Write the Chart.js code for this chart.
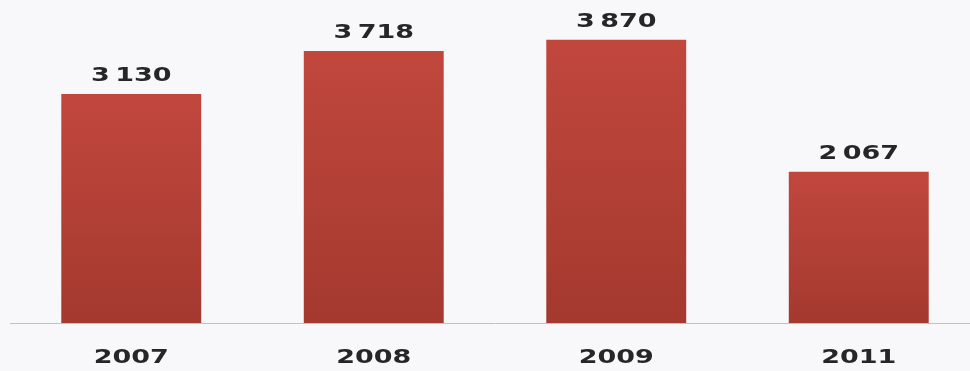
<!DOCTYPE html>
<html>
<head>
<meta charset="utf-8">
<script src="https://cdn.jsdelivr.net/npm/chart.js@4/dist/chart.umd.min.js"></script>
<style>
  html, body { margin: 0; padding: 0; background: #f8f8fa; overflow: hidden; }
  #wrap { width: 970px; height: 371px; overflow: hidden; }
</style>
</head>
<body>
<div id="wrap"><canvas id="yearChart" width="990" height="371"></canvas></div>
<script>
'use strict';

// Yearly totals
var years = ['2007', '2008', '2009', '2011'];
var totals = [3130, 3718, 3870, 2067];

// thousands separated by a thin space
function fmt(n) {
  return String(n).replace(/\B(?=(\d{3})+(?!\d))/g, '\u2009');
}

// stretched bold text, drawn centred at (x, y)
function wideText(ctx, text, x, y, size) {
  ctx.save();
  ctx.translate(x, y);
  ctx.scale(1.35, 1);
  ctx.font = 'bold ' + size + 'px "DejaVu Sans", Verdana, sans-serif';
  ctx.fillStyle = '#262628';
  ctx.textAlign = 'center';
  ctx.textBaseline = 'alphabetic';
  ctx.fillText(text, 0, 0);
  ctx.restore();
}

var labelPlugin = {
  id: 'labels',
  afterDatasetsDraw: function(chart) {
    var ctx = chart.ctx;
    var meta = chart.getDatasetMeta(0);
    var xs = chart.scales.x;
    meta.data.forEach(function(bar, i) {
      wideText(ctx, fmt(totals[i]), bar.x, bar.y - 13, 20);
      wideText(ctx, years[i], xs.getPixelForValue(i), chart.chartArea.bottom + 40, 20);
    });
  }
};

function barFill(context) {
  var chart = context.chart;
  if (!chart.chartArea) return '#b4403a';
  var y = chart.scales.y;
  var top = y.getPixelForValue(totals[context.dataIndex]);
  var bottom = y.getPixelForValue(0);
  var g = chart.ctx.createLinearGradient(0, top, 0, bottom);
  g.addColorStop(0, '#c1473d');
  g.addColorStop(1, '#a4392f');
  return g;
}

new Chart(document.getElementById('yearChart'), {
  type: 'bar',
  data: {
    labels: years,
    datasets: [{
      data: totals,
      backgroundColor: barFill,
      borderWidth: 0,
      categoryPercentage: 1,
      barPercentage: 0.577
    }]
  },
  options: {
    responsive: false,
    animation: false,
    devicePixelRatio: 1,
    layout: { padding: { left: 10, right: 10, top: 1, bottom: 48 } },
    plugins: { legend: { display: false }, tooltip: { enabled: false } },
    scales: {
      x: {
        grid: { display: false, drawTicks: false },
        border: { display: true, color: '#bfc0cc', width: 1 },
        ticks: { display: false }
      },
      y: {
        display: false,
        min: 0,
        max: 4400
      }
    }
  },
  plugins: [labelPlugin]
});
</script>
</body>
</html>
